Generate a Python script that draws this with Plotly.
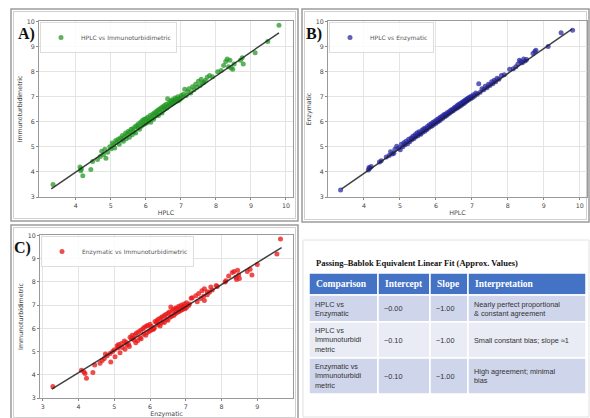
import plotly.graph_objects as go

# ---------------- data ----------------
hplc = [3.35, 4.12, 4.16, 4.20, 4.14, 4.43, 4.48, 4.62, 4.70, 4.74, 4.79, 4.83, 4.86, 4.91, 4.97,
        5.01, 5.04, 5.08, 5.11, 5.14, 5.17, 5.21, 5.24, 5.27, 5.31, 5.33, 5.36, 5.39, 5.42, 5.44,
        5.47, 5.50, 5.53, 5.55, 5.58, 5.61, 5.63, 5.66, 5.69, 5.71, 5.74, 5.77, 5.79, 5.82, 5.85,
        5.87, 5.90, 5.92, 5.95, 5.97, 6.00, 6.02, 6.05, 6.07, 6.10, 6.12, 6.14, 6.17, 6.19, 6.22,
        6.24, 6.26, 6.29, 6.31, 6.33, 6.36, 6.38, 6.41, 6.43, 6.46, 6.48, 6.51, 6.53, 6.55, 6.58,
        6.60, 6.62, 6.64, 6.66, 6.69, 6.71, 6.73, 6.75, 6.77, 6.79, 6.81, 6.83, 6.85, 6.87, 6.89,
        6.91, 6.93, 6.96, 6.98, 7.01, 7.04, 7.07, 7.11, 7.15, 7.19, 7.23, 7.28, 7.33, 7.37, 7.42,
        7.46, 7.50, 7.55, 7.58, 7.62, 7.66, 7.70, 7.75, 7.82, 7.90, 8.05, 8.15, 8.22, 8.28, 8.32,
        8.36, 8.40, 8.44, 8.48, 8.52, 8.75, 8.78, 8.70, 9.12, 9.48, 9.80]
enzymatic = [3.28, 4.08, 4.15, 4.22, 4.18, 4.40, 4.45, 4.60, 4.66, 4.80, 4.72, 4.75, 4.90, 5.02, 4.95,
             4.88, 5.10, 5.00, 5.16, 5.08, 5.22, 5.12, 5.30, 5.20, 5.35, 5.28, 5.42, 5.33, 5.48, 5.40,
             5.55, 5.44, 5.60, 5.52, 5.50, 5.66, 5.58, 5.72, 5.62, 5.75, 5.68, 5.82, 5.74, 5.88, 5.80,
             5.92, 5.84, 5.98, 5.90, 6.02, 5.94, 6.08, 6.00, 6.12, 6.04, 6.18, 6.10, 6.22, 6.14, 6.28,
             6.20, 6.30, 6.24, 6.36, 6.30, 6.40, 6.34, 6.46, 6.40, 6.50, 6.44, 6.56, 6.50, 6.60, 6.54,
             6.66, 6.58, 6.70, 6.62, 6.74, 6.66, 6.78, 6.72, 6.82, 6.74, 6.86, 6.80, 6.90, 6.84, 6.94,
             6.88, 6.98, 6.92, 7.02, 6.96, 7.08, 7.02, 7.15, 7.10, 7.52, 7.18, 7.32, 7.28, 7.42, 7.36,
             7.50, 7.45, 7.60, 7.52, 7.66, 7.60, 7.74, 7.70, 7.85, 7.88, 8.10, 8.12, 8.20, 8.30, 8.45,
             8.40, 8.35, 8.50, 8.42, 8.48, 8.80, 8.85, 8.72, 9.00, 9.55, 9.65]
immuno = [3.50, 4.20, 4.12, 3.85, 4.05, 4.10, 4.42, 4.50, 4.62, 4.82, 4.70, 4.90, 4.55, 4.78, 5.00,
          4.92, 5.15, 5.08, 4.95, 5.25, 5.18, 5.30, 5.10, 5.35, 5.28, 5.45, 5.22, 5.40, 5.55, 5.32,
          5.50, 5.62, 5.38, 5.58, 5.70, 5.48, 5.72, 5.60, 5.80, 5.55, 5.85, 5.75, 5.92, 5.70, 5.98,
          5.82, 6.05, 5.88, 6.10, 5.92, 6.12, 5.95, 6.18, 6.02, 6.08, 6.25, 5.98, 6.15, 6.30, 6.10,
          6.35, 6.22, 6.40, 6.28, 6.45, 6.25, 6.50, 6.38, 6.55, 6.35, 6.60, 6.48, 6.65, 6.52, 6.70,
          6.55, 6.92, 6.62, 6.75, 6.68, 6.82, 6.70, 6.88, 6.74, 6.85, 6.78, 6.95, 6.80, 6.90, 6.86,
          7.00, 6.84, 6.95, 6.90, 7.05, 6.98, 7.10, 7.30, 7.05, 7.20, 7.32, 7.15, 7.40, 7.28, 7.50,
          7.38, 7.62, 7.45, 7.70, 7.55, 7.58, 7.65, 7.78, 7.85, 7.80, 8.00, 8.05, 8.25, 8.40, 8.50,
          8.20, 8.45, 8.15, 8.10, 8.30, 8.55, 8.30, 8.45, 8.75, 9.20, 9.85]

fitA_x = [3.30, 9.80]
fitA_y = [3.32, 9.55]
fitB_x = [3.38, 9.78]
fitB_y = [3.32, 9.70]
fitC_x = [3.25, 9.68]
fitC_y = [3.38, 9.48]

xticks_AB = [4, 5, 6, 7, 8, 9, 10]
xticks_C = [3, 4, 5, 6, 7, 8, 9]
yticks = [3, 4, 5, 6, 7, 8, 9, 10]

table_title = "Passing–Bablok Equivalent Linear Fit (Approx. Values)"
table_header = ["Comparison", "Intercept", "Slope", "Interpretation"]
table_comparison = ["HPLC vs<br>Enzymatic", "HPLC vs<br>Immunoturbidi<br>metric",
                    "Enzymatic vs<br>Immunoturbidi<br>metric"]
table_intercept = ["~0.00", "~0.10", "~0.10"]
table_slope = ["~1.00", "~1.00", "~1.00"]
table_interp = ["Nearly perfect proportional<br>& constant agreement",
                "Small constant bias; slope ≈1",
                "High agreement; minimal<br>bias"]

# ---------------- layout helpers ----------------
W, H = 590, 418


def px(x):
    return x / W


def py(y):
    return 1 - y / H


fig = go.Figure()

GREEN = "rgba(30,150,30,0.72)"
BLUE = "rgba(35,35,160,0.72)"
RED = "rgba(235,25,25,0.78)"
LINE = dict(color="rgba(30,30,30,0.85)", width=1.5)

fig.add_trace(go.Scatter(x=hplc, y=immuno, mode="markers", name="HPLC vs Immunoturbidimetric",
                         marker=dict(color=GREEN, size=5), xaxis="x", yaxis="y", legend="legend"))
fig.add_trace(go.Scatter(x=fitA_x, y=fitA_y, mode="lines", showlegend=False, line=LINE,
                         xaxis="x", yaxis="y"))
fig.add_trace(go.Scatter(x=hplc, y=enzymatic, mode="markers", name="HPLC vs Enzymatic",
                         marker=dict(color=BLUE, size=5), xaxis="x2", yaxis="y2", legend="legend2"))
fig.add_trace(go.Scatter(x=fitB_x, y=fitB_y, mode="lines", showlegend=False, line=LINE,
                         xaxis="x2", yaxis="y2"))
fig.add_trace(go.Scatter(x=enzymatic, y=immuno, mode="markers", name="Enzymatic vs Immunoturbidimetric",
                         marker=dict(color=RED, size=5), xaxis="x3", yaxis="y3", legend="legend3"))
fig.add_trace(go.Scatter(x=fitC_x, y=fitC_y, mode="lines", showlegend=False, line=LINE,
                         xaxis="x3", yaxis="y3"))

axis_common = dict(showgrid=True, gridcolor="#e4e4e4", gridwidth=0.8, zeroline=False,
                   showline=True, linecolor="#9a9a9a", linewidth=1, mirror=True,
                   ticks="outside", ticklen=2, tickcolor="#888",
                   tickfont=dict(family="DejaVu Sans", size=6.3, color="#444"))
title_font = dict(family="DejaVu Sans", size=6.3, color="#444")

layout = dict(
    width=W, height=H, margin=dict(l=0, r=0, t=0, b=0, autoexpand=False),
    paper_bgcolor="white", plot_bgcolor="white", showlegend=True,
    xaxis=dict(axis_common, domain=[px(39), px(293)], range=[2.95, 10.2], tickvals=xticks_AB,
               anchor="y", title=dict(text="HPLC", font=title_font, standoff=3)),
    yaxis=dict(axis_common, domain=[py(197), py(21)], range=[3, 10.02], tickvals=yticks,
               anchor="x", title=dict(text="Immunoturbidimetric", font=title_font, standoff=3)),
    xaxis2=dict(axis_common, domain=[px(328), px(587)], range=[3.0, 10.2], tickvals=xticks_AB,
                anchor="y2", title=dict(text="HPLC", font=title_font, standoff=3)),
    yaxis2=dict(axis_common, domain=[py(197), py(21)], range=[3, 10.02], tickvals=yticks,
                anchor="x2", title=dict(text="Enzymatic", font=title_font, standoff=3)),
    xaxis3=dict(axis_common, domain=[px(40), px(293)], range=[2.92, 10.0], tickvals=xticks_C,
                anchor="y3", title=dict(text="Enzymatic", font=title_font, standoff=3)),
    yaxis3=dict(axis_common, domain=[py(398), py(235)], range=[3, 10.02], tickvals=yticks,
                anchor="x3", title=dict(text="Immunoturbidimetric", font=title_font, standoff=3)),
)

legend_common = dict(font=dict(family="DejaVu Sans", size=6, color="#555"),
                     bgcolor="rgba(255,255,255,0.85)", bordercolor="#dddddd", borderwidth=1,
                     xanchor="left", yanchor="top", itemwidth=30, tracegroupgap=0)
layout["legend"] = dict(legend_common, x=px(40), y=py(22))
layout["legend2"] = dict(legend_common, x=px(329), y=py(22))
layout["legend3"] = dict(legend_common, x=px(41), y=py(236))

fig.update_layout(**layout)

# panel frames (double grey border)
frames = [(11, 9, 298, 221), (302, 9, 589, 222), (11, 225, 298, 420)]
for (x0, y0, x1, y1) in frames:
    fig.add_shape(type="rect", xref="paper", yref="paper", x0=px(x0), x1=px(x1), y0=py(y1), y1=py(y0),
                  line=dict(color="#9c9c9c", width=1.5), layer="below")
    fig.add_shape(type="rect", xref="paper", yref="paper", x0=px(x0 + 2.5), x1=px(x1 - 2.5),
                  y0=py(y1 - 2.5), y1=py(y0 + 2.5), line=dict(color="#d0d0d0", width=1), layer="below")

# table panel faint border
fig.add_shape(type="rect", xref="paper", yref="paper", x0=px(303), x1=px(589), y0=py(417), y1=py(240),
              line=dict(color="#e2e2e2", width=1), layer="below")

# panel letters
for label, (lx, ly) in zip(["A)", "B)", "C)"], [(26, 34), (314, 34), (22, 248)]):
    fig.add_annotation(text="<b>%s</b>" % label, x=px(lx), y=py(ly), xref="paper", yref="paper",
                       showarrow=False, xanchor="center", yanchor="middle",
                       font=dict(family="Liberation Serif", size=16, color="#111"))

# table title
fig.add_annotation(text="<b>%s</b>" % table_title, x=px(314), y=py(263), xref="paper", yref="paper",
                   showarrow=False, xanchor="left", yanchor="middle",
                   font=dict(family="Liberation Serif", size=8.5, color="#111"))

# ---------------- table drawn from the lists ----------------
col_edges = [309, 378, 430, 468, 586]
row_edges = [273, 295, 322, 358, 394]
row_fill = ["#CFD5EA", "#E9EBF5", "#CFD5EA"]
columns = [table_comparison, table_intercept, table_slope, table_interp]

# header
for c, head in enumerate(table_header):
    x0, x1 = col_edges[c], col_edges[c + 1]
    y0, y1 = row_edges[0], row_edges[1]
    fig.add_shape(type="rect", xref="paper", yref="paper", x0=px(x0), x1=px(x1), y0=py(y1), y1=py(y0),
                  fillcolor="#4472C4", line=dict(color="white", width=1.5), layer="above")
    fig.add_annotation(text="<b>%s</b>" % head, x=px(x0 + 5), y=py((y0 + y1) / 2), xref="paper",
                       yref="paper", showarrow=False, xanchor="left", yanchor="middle",
                       font=dict(family="Liberation Serif", size=9.5, color="white"))

# body
for r in range(len(table_comparison)):
    y0, y1 = row_edges[r + 1], row_edges[r + 2]
    for c, col in enumerate(columns):
        x0, x1 = col_edges[c], col_edges[c + 1]
        fig.add_shape(type="rect", xref="paper", yref="paper", x0=px(x0), x1=px(x1), y0=py(y1),
                      y1=py(y0), fillcolor=row_fill[r], line=dict(color="white", width=1.5),
                      layer="above")
        fig.add_annotation(text=col[r], x=px(x0 + 4), y=py((y0 + y1) / 2), xref="paper",
                           yref="paper", showarrow=False, xanchor="left", yanchor="middle",
                           align="left",
                           font=dict(family="Liberation Sans", size=7.3, color="#333"))

fig.write_html("out.html", config={"displayModeBar": False},
               post_script="document.body.style.margin='0px';")
